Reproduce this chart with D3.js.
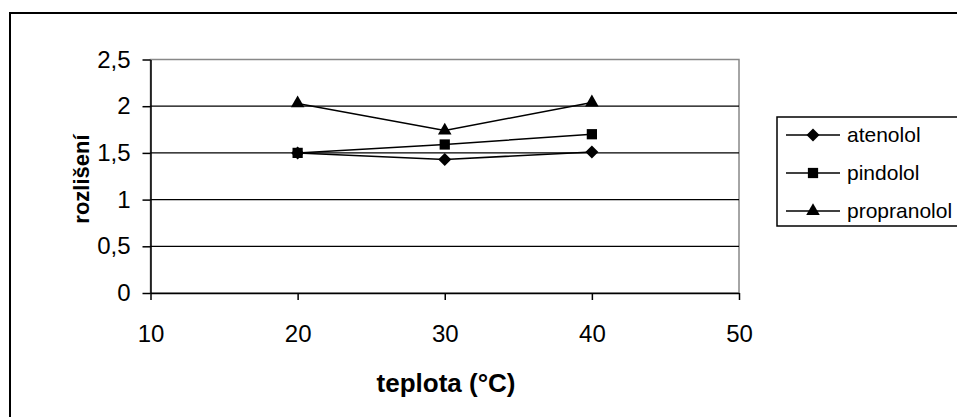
<!DOCTYPE html>
<html>
<head>
<meta charset="utf-8">
<script src="https://cdnjs.cloudflare.com/ajax/libs/d3/7.8.5/d3.min.js"></script>
<style>
  body { margin: 0; background: #fff; }
  svg { display: block; font-family: "Liberation Sans", Arial, sans-serif; }
  .axis text { font-size: 24px; fill: #000; }
  .axis path, .axis line { stroke: #000; stroke-width: 1.5px; }
</style>
</head>
<body>
<script>
// data
var temps = [20, 30, 40];
var seriesNames = ["atenolol", "pindolol", "propranolol"];
var atenolol = [1.50, 1.43, 1.51];
var pindolol = [1.50, 1.59, 1.70];
var propranolol = [2.03, 1.74, 2.04];
var yTicks = [0, 0.5, 1, 1.5, 2, 2.5];
var xTicks = [10, 20, 30, 40, 50];

var values = [atenolol, pindolol, propranolol];
var symbols = [d3.symbolSquare, d3.symbolSquare, d3.symbolTriangle];
var symSizes = [85, 105, 80];
var symRotate = [45, 0, 0];

var W = 957, H = 417;
var margin = {top: 59.5, right: 218, bottom: 124, left: 150.5},
    width = W - margin.left - margin.right,
    height = H - margin.top - margin.bottom;

var svg = d3.select("body").append("svg")
    .attr("width", W)
    .attr("height", H);

// outer chart frame (runs off the right and bottom)
svg.append("rect")
    .attr("x", 10).attr("y", 13)
    .attr("width", 970).attr("height", 430)
    .attr("fill", "none").attr("stroke", "#000").attr("stroke-width", 2);

var x = d3.scaleLinear().domain([10, 50]).range([0, width]);
var y = d3.scaleLinear().domain([0, 2.5]).range([height, 0]);

var fmt = function(d) { return String(d).replace(".", ","); };

var g = svg.append("g")
    .attr("transform", "translate(" + margin.left + "," + margin.top + ")");

// plot area border (grey top/right)
g.append("rect")
    .attr("width", width).attr("height", height)
    .attr("fill", "none").attr("stroke", "#888").attr("stroke-width", 1.5);

// gridlines
g.selectAll(".grid")
    .data(yTicks.filter(function(d) { return d > 0 && d < 2.5; }))
  .enter().append("line")
    .attr("class", "grid")
    .attr("x1", 0).attr("x2", width)
    .attr("y1", function(d) { return y(d); })
    .attr("y2", function(d) { return y(d); })
    .attr("stroke", "#000").attr("stroke-width", 1.2);

g.append("g")
    .attr("class", "axis")
    .attr("transform", "translate(0," + height + ")")
    .call(d3.axisBottom(x).tickValues(xTicks).tickSize(7).tickSizeOuter(0).tickPadding(25).tickFormat(fmt));

g.append("g")
    .attr("class", "axis")
    .call(d3.axisLeft(y).tickValues(yTicks).tickSize(8).tickSizeOuter(0).tickPadding(12).tickFormat(fmt));

g.selectAll(".axis .domain").attr("stroke-width", 2);

// axis titles
svg.append("text")
    .attr("x", 446).attr("y", 392)
    .attr("text-anchor", "middle")
    .style("font-size", "26px").style("font-weight", "bold")
    .text("teplota (°C)");

svg.append("text")
    .attr("transform", "translate(89,179) rotate(-90)")
    .attr("text-anchor", "middle")
    .style("font-size", "22px").style("font-weight", "bold")
    .text("rozlišení");

// series
var line = d3.line()
    .x(function(d, i) { return x(temps[i]); })
    .y(function(d) { return y(d); });

values.forEach(function(vals, s) {
  g.append("path")
      .datum(vals)
      .attr("fill", "none")
      .attr("stroke", "#000")
      .attr("stroke-width", 1.5)
      .attr("d", line);

  g.selectAll(".m" + s)
      .data(vals)
    .enter().append("path")
      .attr("class", "m" + s)
      .attr("transform", function(d, i) {
        return "translate(" + x(temps[i]) + "," + y(d) + ") rotate(" + symRotate[s] + ")";
      })
      .attr("d", d3.symbol().type(symbols[s]).size(symSizes[s]))
      .attr("fill", "#000");
});

// legend
var legend = svg.append("g").attr("transform", "translate(777,117)");
legend.append("rect")
    .attr("width", 200).attr("height", 109)
    .attr("fill", "#fff").attr("stroke", "#000").attr("stroke-width", 1.5);

var item = legend.selectAll(".item")
    .data(seriesNames)
  .enter().append("g")
    .attr("class", "item")
    .attr("transform", function(d, i) { return "translate(0," + (18 + i * 38) + ")"; });

item.append("line")
    .attr("x1", 9).attr("x2", 63)
    .attr("stroke", "#000").attr("stroke-width", 1.5);

item.append("path")
    .attr("transform", function(d, i) { return "translate(36,0) rotate(" + symRotate[i] + ")"; })
    .attr("d", function(d, i) { return d3.symbol().type(symbols[i]).size(symSizes[i])(); })
    .attr("fill", "#000");

item.append("text")
    .attr("x", 70).attr("dy", "0.35em")
    .style("font-size", "21px")
    .text(function(d) { return d; });
</script>
</body>
</html>
